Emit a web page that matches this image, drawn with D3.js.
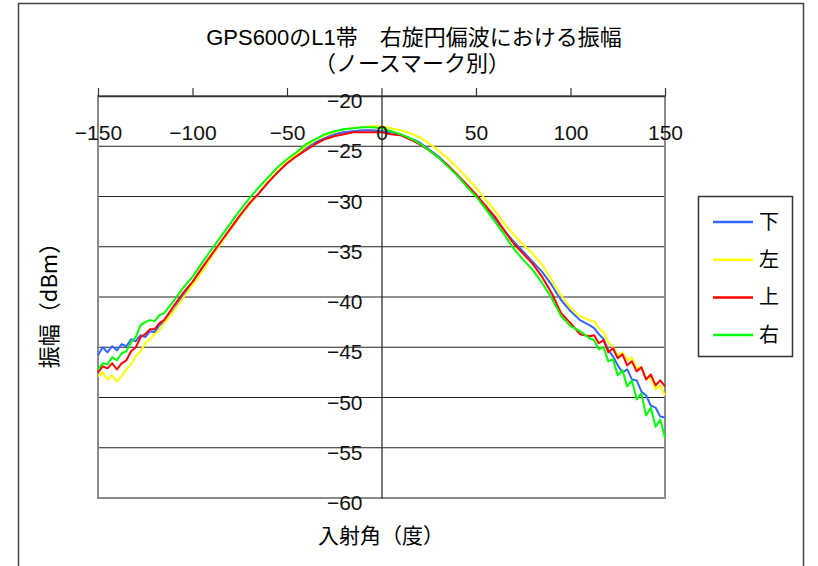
<!DOCTYPE html>
<html>
<head>
<meta charset="utf-8">
<style>
    body {
        margin: 0;
        background: #fff;
        font-family: "Liberation Sans", "Noto Sans CJK JP", sans-serif;
    }
    svg {
        display: block;
    }
    .title {
        font-size: 22px;
        text-anchor: middle;
        font-family: "Liberation Sans", "Noto Sans CJK JP";
    }
    .axis-title {
        font-size: 21px;
        text-anchor: middle;
        font-family: "Noto Sans CJK JP";
    }
    .tick text {
        font-size: 21px;
        fill: #111;
        font-family: "Liberation Sans";
    }
    .grid line {
        stroke: #222;
        stroke-width: 1.2;
    }
    .series {
        fill: none;
        stroke-width: 2;
        stroke-linejoin: round;
    }
    .legend-label {
        font-size: 20px;
        font-family: "Noto Sans CJK JP";
    }
</style>
</head>
<body>
<script src="https://cdn.jsdelivr.net/npm/d3@7"></script>
<script>

    // incidence angle (deg): finer steps in the noisy tails
    var angles = [-150, -147.5, -145, -142.5, -140, -137.5, -135, -132.5, -130, -127.5,
                  -125, -122.5, -120, -117.5, -115,
                  -110, -105, -100, -95, -90, -85, -80, -75, -70, -65,
                  -60, -55, -50, -45, -40, -35, -30, -25, -20, -15,
                  -10, -5, 0, 5, 10, 15, 20, 25, 30, 35,
                  40, 45, 50, 55, 60, 65, 70, 75, 80, 85,
                  90, 95, 100, 105, 110,
                  112.5, 115, 117.5, 120, 122.5, 125, 127.5, 130, 132.5, 135,
                  137.5, 140, 142.5, 145, 147.5, 150];

    // amplitude (dBm) per north mark
    var shita = [-45.8, -45.0, -45.5, -44.9, -45.3, -44.7, -44.9, -44.2, -44.4, -43.8,
                 -44.0, -43.4, -43.5, -42.8, -42.5,
                 -41.3, -39.9, -38.6, -37.3, -35.9, -34.6, -33.3, -32.0, -30.8, -29.7,
                 -28.6, -27.6, -26.7, -25.9, -25.2, -24.6, -24.2, -23.8, -23.6, -23.5,
                 -23.4, -23.4, -23.5, -23.6, -23.8, -24.2, -24.6, -25.3, -26.0, -26.9,
                 -27.9, -28.9, -29.9, -31.1, -32.2, -33.4, -34.5, -35.5, -36.5, -37.5,
                 -38.8, -40.3, -41.4, -42.3, -42.8,
                 -43.1, -43.7, -44.2, -45.3, -45.9, -46.8, -47.5, -47.2, -48.2, -48.3,
                 -49.4, -49.8, -50.8, -51.0, -51.9, -52.0];

    var hidari = [-47.9, -47.5, -48.2, -47.8, -48.4, -47.9, -47.2, -46.7, -45.9, -45.4,
                  -44.6, -44.2, -43.7, -43.3, -42.6,
                  -41.4, -40.1, -38.8, -37.5, -36.0, -34.7, -33.3, -32.0, -30.8, -29.7,
                  -28.5, -27.5, -26.6, -25.8, -25.0, -24.4, -23.9, -23.6, -23.3, -23.2,
                  -23.1, -23.0, -23.0, -23.2, -23.4, -23.7, -24.1, -24.7, -25.4, -26.2,
                  -27.1, -28.1, -29.1, -30.3, -31.4, -32.7, -33.8, -34.8, -35.7, -36.8,
                  -38.3, -39.8, -41.1, -41.9, -42.3,
                  -42.4, -43.1, -43.5, -44.5, -45.0, -45.8, -45.5, -46.3, -46.0, -47.1,
                  -47.0, -48.2, -48.0, -49.2, -48.8, -49.8];

    var ue = [-47.5, -46.9, -47.1, -46.6, -47.2, -46.6, -46.3, -45.4, -45.0, -44.0,
              -43.7, -43.2, -43.2, -42.6, -42.3,
              -40.9, -39.6, -38.5, -37.1, -35.8, -34.5, -33.2, -31.9, -30.7, -29.7,
              -28.6, -27.6, -26.7, -26.0, -25.4, -24.8, -24.3, -24.0, -23.8, -23.6,
              -23.6, -23.6, -23.6, -23.8, -23.9, -24.3, -24.8, -25.4, -26.1, -26.9,
              -27.8, -28.8, -29.8, -30.9, -32.0, -33.4, -34.7, -35.7, -36.7, -38.0,
              -39.6, -41.6, -42.6, -43.7, -43.9,
              -43.8, -44.6, -44.3, -45.5, -45.1, -46.1, -45.7, -46.8, -46.4, -47.4,
              -47.0, -48.2, -47.7, -48.8, -48.3, -48.9];

    var migi = [-47.2, -46.6, -46.7, -46.0, -46.3, -45.6, -45.4, -44.5, -44.0, -42.8,
                -42.5, -42.3, -42.4, -41.8, -41.6,
                -40.4, -39.1, -38.0, -36.6, -35.3, -34.0, -32.7, -31.4, -30.2, -29.1,
                -28.1, -27.1, -26.3, -25.6, -24.8, -24.3, -23.8, -23.5, -23.3, -23.2,
                -23.1, -23.1, -23.2, -23.5, -23.8, -24.2, -24.7, -25.4, -26.1, -27.0,
                -27.9, -29.0, -30.0, -31.2, -32.5, -33.8, -35.2, -36.3, -37.3, -38.6,
                -40.1, -41.9, -42.9, -43.4, -44.1,
                -44.3, -45.2, -45.0, -46.4, -46.2, -47.8, -47.3, -48.9, -48.3, -50.2,
                -49.6, -51.8, -51.0, -52.9, -52.2, -54.0];

    var seriesNames = ["下", "左", "上", "右"];
    var seriesColors = ["#3366ff", "#ffff00", "#ff0000", "#00ff00"];
    var xTicks = [-150, -100, -50, 0, 50, 100, 150];
    var yTicks = [-60, -55, -50, -45, -40, -35, -30, -25, -20];

    var series = [shita, hidari, ue, migi].map(function(vals, i) {
        return {name: seriesNames[i], color: seriesColors[i],
                points: vals.map(function(v, j) { return [angles[j], v]; })};
    });

    var width = 818,
        height = 566,
        plotLeft = 98,
        plotRight = 665,
        plotTop = 96,
        plotBottom = 498;

    var x = d3.scaleLinear().domain([-150, 150]).range([plotLeft, plotRight]);
    var y = d3.scaleLinear().domain([-60, -20]).range([plotBottom, plotTop]);

    var minus = function(d) { return String(d).replace("-", "\u2212"); };

    var svg = d3.select("body").append("svg")
        .attr("width", width)
        .attr("height", height);

    // outer chart frame
    svg.append("rect")
        .attr("x", 18.5)
        .attr("y", 3.5)
        .attr("width", 785)
        .attr("height", 620)
        .attr("fill", "none")
        .attr("stroke", "#444")
        .attr("stroke-width", 1.5);

    svg.append("text")
        .attr("class", "title")
        .attr("x", 414)
        .attr("y", 45)
        .text("GPS600のL1帯\u3000右旋円偏波における振幅");

    svg.append("text")
        .attr("class", "title")
        .attr("x", 412)
        .attr("y", 71)
        .text("（ノースマーク別）");

    // gridlines
    svg.append("g")
        .attr("class", "grid")
      .selectAll("line")
        .data(yTicks.filter(function(d) { return d > -60 && d < -20; }))
      .enter().append("line")
        .attr("x1", plotLeft)
        .attr("x2", plotRight)
        .attr("y1", function(d) { return y(d); })
        .attr("y2", function(d) { return y(d); });

    // plot frame
    svg.append("rect")
        .attr("x", plotLeft)
        .attr("y", plotTop)
        .attr("width", plotRight - plotLeft)
        .attr("height", plotBottom - plotTop)
        .attr("fill", "none")
        .attr("stroke", "#8a8a8a")
        .attr("stroke-width", 2);

    var line = d3.line()
        .x(function(d) { return x(d[0]); })
        .y(function(d) { return y(d[1]); });

    svg.append("g")
      .selectAll("path")
        .data(series)
      .enter().append("path")
        .attr("class", "series")
        .attr("stroke", function(d) { return d.color; })
        .attr("d", function(d) { return line(d.points); });

    // x axis along the top, labels hang below the line
    var xAxis = svg.append("g")
        .attr("transform", "translate(0," + plotTop + ")")
        .call(d3.axisTop(x).tickValues(xTicks).tickSize(8).tickSizeOuter(0).tickFormat(minus));
    xAxis.select(".domain").attr("stroke", "#333").attr("stroke-width", 1.5);
    xAxis.selectAll(".tick line").attr("stroke", "#333").attr("stroke-width", 1.2);
    xAxis.selectAll(".tick text").attr("y", 44).attr("dy", null);

    // y axis through x = 0
    var yAxis = svg.append("g")
        .attr("transform", "translate(" + x(0) + ",0)")
        .call(d3.axisLeft(y).tickValues(yTicks).tickSize(0).tickPadding(19).tickFormat(minus));
    yAxis.select(".domain").attr("stroke", "#222").attr("stroke-width", 1.2);
    yAxis.selectAll(".tick text").attr("dy", "0.55em");

    svg.append("text")
        .attr("class", "axis-title")
        .attr("x", 381)
        .attr("y", 543)
        .text("入射角（度）");

    svg.append("text")
        .attr("class", "axis-title")
        .attr("transform", "translate(57,300) rotate(-90)")
        .style("font-size", "22px")
        .text("振幅（dBm）");

    // legend
    var legend = svg.append("g");
    legend.append("rect")
        .attr("x", 698.5)
        .attr("y", 196.5)
        .attr("width", 94)
        .attr("height", 160)
        .attr("fill", "#fff")
        .attr("stroke", "#333")
        .attr("stroke-width", 1.5);

    var item = legend.selectAll(".item")
        .data(series)
      .enter().append("g")
        .attr("class", "item")
        .attr("transform", function(d, i) { return "translate(0," + (222 + i * 37.7) + ")"; });

    item.append("line")
        .attr("x1", 713)
        .attr("x2", 753)
        .attr("stroke", function(d) { return d.color; })
        .attr("stroke-width", 2.5);

    item.append("text")
        .attr("class", "legend-label")
        .attr("x", 759)
        .attr("y", 7)
        .text(function(d) { return d.name; });
</script>
</body>
</html>
